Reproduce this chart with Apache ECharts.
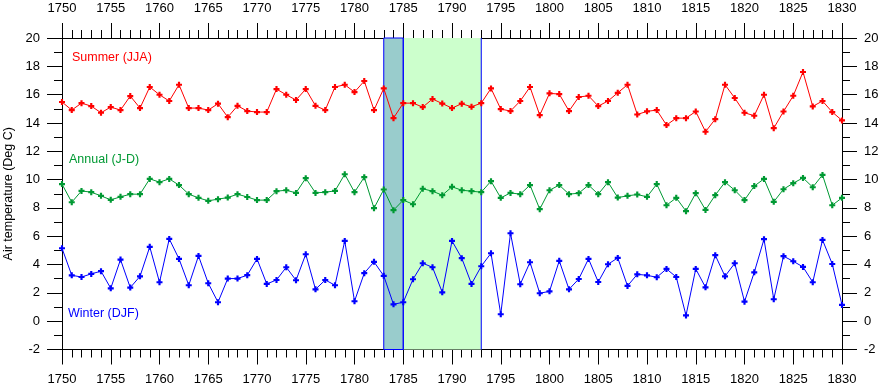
<!DOCTYPE html>
<html><head><meta charset="utf-8">
<script src="https://cdn.jsdelivr.net/npm/echarts@6/dist/echarts.min.js"></script>
<style>html,body{margin:0;padding:0;background:#fff}#c{width:880px;height:388px}</style>
</head><body><div id="c"></div>
<script>
var startYear = 1750, endYear = 1830;
var summer = [15.48,14.91,15.40,15.19,14.72,15.12,14.91,15.90,15.05,16.54,15.99,15.55,16.70,15.05,15.05,14.91,15.36,14.41,15.21,14.84,
14.77,14.77,16.39,15.99,15.62,16.39,15.21,14.91,16.54,16.70,
16.18,16.96,14.91,16.44,14.34,15.40,15.40,15.12,15.69,15.37,
15.05,15.36,15.14,15.40,16.44,14.98,14.84,15.55,16.54,14.55,
16.09,16.04,14.84,15.83,15.92,15.19,15.55,16.13,16.70,14.60,
14.82,14.91,13.85,14.34,14.34,14.81,13.38,14.27,16.70,15.76,
14.72,14.51,15.99,13.63,14.81,15.92,17.60,15.17,15.55,14.77,
14.18];
var annual = [9.68,8.40,9.20,9.11,8.85,8.57,8.78,8.97,8.97,10.05,9.82,10.05,9.61,8.97,8.71,8.50,8.62,8.73,8.97,8.77,
8.55,8.55,9.18,9.25,9.06,10.10,9.06,9.11,9.20,10.38,
9.11,10.17,7.98,9.30,7.84,8.55,8.26,9.35,9.18,8.90,
9.49,9.25,9.18,9.11,9.89,8.71,9.06,8.97,9.61,7.91,
9.25,9.61,8.97,9.04,9.61,8.97,9.82,8.73,8.85,8.95,
8.78,9.68,8.19,8.71,7.77,9.04,7.86,8.90,9.82,9.25,
8.55,9.54,10.05,8.43,9.32,9.75,10.12,9.46,10.33,8.19,
8.71];
var winter = [5.15,3.24,3.12,3.34,3.53,2.32,4.35,2.37,3.17,5.25,2.75,5.81,4.40,2.54,4.61,2.68,1.34,3.01,3.01,3.25,
4.40,2.63,2.91,3.81,2.89,4.73,2.25,2.91,2.54,5.67,
1.41,3.39,4.19,3.20,1.19,1.34,2.96,4.09,3.81,2.04,
5.67,4.45,2.63,3.88,4.80,0.49,6.21,2.61,4.16,1.97,
2.11,4.26,2.25,2.98,4.40,2.77,4.02,4.47,2.49,3.31,
3.24,3.10,3.69,3.12,0.41,3.69,2.39,4.66,3.17,4.09,
1.38,3.45,5.79,1.55,4.59,4.23,3.83,2.75,5.74,4.04,
1.15];
var seriesNames = ['Summer (JJA)', 'Annual (J-D)', 'Winter (DJF)'];
var periodA = [1783, 1785];
var periodB = [1785, 1793];
var yMin = -2, yMax = 20;

var years = [];
for (var y = startYear; y <= endYear; y++) years.push(y);
function pairs(arr) { return arr.map(function (v, i) { return [years[i], v]; }); }

var FONT = 'Liberation Sans, Arial, sans-serif';
var marker = 'path://M1.6,0H3.4V1.6H5V3.4H3.4V5H1.6V3.4H0V1.6H1.6Z';
function plain(v) { return String(v); }

function xAx(pos) {
  return {
    type: 'value', position: pos, min: startYear, max: endYear, interval: 5,
    axisLine: { show: true, onZero: false, lineStyle: { color: '#000', width: 1 } },
    axisTick: { show: true, length: 15, lineStyle: { color: '#000' } },
    minorTick: { show: true, splitNumber: 5, length: 8, lineStyle: { color: '#000' } },
    splitLine: { show: false },
    axisLabel: { color: '#000', fontSize: 13, fontFamily: FONT, margin: 23, formatter: plain }
  };
}
function yAx(pos, withName) {
  var a = {
    type: 'value', position: pos, min: yMin, max: yMax, interval: 2,
    axisLine: { show: true, onZero: false, lineStyle: { color: '#000', width: 1 } },
    axisTick: { show: true, length: 15, lineStyle: { color: '#000' } },
    minorTick: { show: true, splitNumber: 2, length: 8, lineStyle: { color: '#000' } },
    splitLine: { show: false },
    axisLabel: { color: '#000', fontSize: 13, fontFamily: FONT, margin: 22, formatter: plain }
  };
  if (withName) {
    a.name = 'Air temperature (Deg C)';
    a.nameLocation = 'middle';
    a.nameGap = 47;
    a.nameTextStyle = { color: '#000', fontSize: 12.5, fontFamily: FONT };
  }
  return a;
}
function lineSeries(name, data, color) {
  return {
    name: name, type: 'line', data: pairs(data), xAxisIndex: 0, yAxisIndex: 0,
    symbol: marker, symbolSize: 6, showAllSymbol: true,
    lineStyle: { color: color, width: 1 }, itemStyle: { color: color },
    z: 5, animation: false
  };
}
function edgeSeries(x) {
  return {
    type: 'line', data: [[x, yMin], [x, yMax]], xAxisIndex: 0, yAxisIndex: 0,
    symbol: 'none', silent: true, z: 2,
    lineStyle: { color: '#0000ff', width: 1 }, itemStyle: { color: '#0000ff' }
  };
}

var chart = echarts.init(document.getElementById('c'), null, { renderer: 'canvas' });
chart.setOption({
  animation: false,
  backgroundColor: '#fff',
  grid: { left: 62, right: 38, top: 38, bottom: 38.5, containLabel: false, outerBoundsMode: 'none' },
  xAxis: [xAx('bottom'), xAx('top')],
  yAxis: [yAx('left', true), yAx('right', false)],
  series: [
    {
      type: 'line', data: [], xAxisIndex: 0, yAxisIndex: 0, z: 1, silent: true,
      markArea: {
        silent: true,
        data: [
          [{ xAxis: periodB[0], yAxis: yMin, itemStyle: { color: '#ccffcc', borderWidth: 0 } }, { xAxis: periodB[1], yAxis: yMax }],
          [{ xAxis: periodA[0], yAxis: yMin, itemStyle: { color: '#99cccc', borderColor: '#0000ff', borderWidth: 1 } }, { xAxis: periodA[1], yAxis: yMax }]
        ]
      }
    },
    edgeSeries(periodB[0]),
    edgeSeries(periodB[1]),
    lineSeries(seriesNames[0], summer, '#ff0000'),
    lineSeries(seriesNames[1], annual, '#009933'),
    lineSeries(seriesNames[2], winter, '#0000ff')
  ],
  graphic: [
    { type: 'text', left: 72, top: 51, style: { text: seriesNames[0], fill: '#ff0000', font: '12.5px ' + FONT } },
    { type: 'text', left: 69, top: 153, style: { text: seriesNames[1], fill: '#009933', font: '12.5px ' + FONT } },
    { type: 'text', left: 68, top: 307, style: { text: seriesNames[2], fill: '#0000ff', font: '12.5px ' + FONT } }
  ]
});
</script></body></html>
